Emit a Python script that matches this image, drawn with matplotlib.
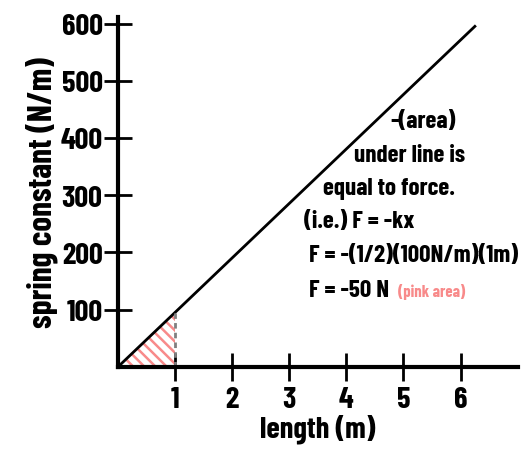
import matplotlib.pyplot as plt
from matplotlib.patches import Polygon

plt.rcParams["hatch.linewidth"] = 1.8

# spring line, length (m) vs spring constant (N/m)
line_x = [0, 6.25]
line_k = [0, 595]
x_ticks = [1, 2, 3, 4, 5, 6]
y_ticks = [100, 200, 300, 400, 500, 600]
shade_x = 1.0
slope = line_k[1] / line_x[1]

notes = [
    ("-(area)", 5.35, 430, "center"),
    ("under line is", 5.1, 370, "center"),
    ("equal to force.", 4.75, 313, "center"),
    ("(i.e.) F = -kx", 3.25, 255, "left"),
    ("F = -(1/2)(100N/m)(1m)", 3.35, 195, "left"),
    ("F = -50 N", 3.35, 135, "left"),
]

font = dict(family=["Barlow Condensed", "DejaVu Sans"], weight="bold")

fig = plt.figure(figsize=(5.24, 4.64), dpi=100)
ax = fig.add_axes([0.225, 0.207, 0.763, 0.755])

ax.plot(line_x, line_k, color="black", lw=2)

tri = Polygon([(0, 0), (shade_x, 0), (shade_x, slope * shade_x)],
              closed=True, fill=False, hatch="\\\\\\", edgecolor="#f88a8a", lw=0)
ax.add_patch(tri)
ax.plot([shade_x, shade_x], [0, slope * shade_x], color="gray", lw=2, ls=(0, (2, 1.5)))

for txt, x, y, ha in notes:
    ax.text(x, y, txt, ha=ha, va="center", fontsize=18, **font)
ax.text(4.9, 133, "(pink area)", ha="left", va="center", fontsize=12,
        color="#f88a8a", **font)

ax.set_xlim(0, 7)
ax.set_ylim(0, 612)
ax.set_xticks(x_ticks)
ax.set_yticks(y_ticks)
ax.set_xticklabels([str(v) for v in x_ticks], fontsize=22, **font)
ax.set_yticklabels([str(v) for v in y_ticks], fontsize=22, **font)
ax.tick_params(axis="y", direction="inout", length=20, width=2, pad=1)
ax.tick_params(axis="x", direction="inout", length=20, width=2, pad=4)
ax.spines["top"].set_visible(False)
ax.spines["right"].set_visible(False)
ax.spines["left"].set_linewidth(3)
ax.spines["bottom"].set_linewidth(3)
ax.set_xlabel("length (m)", fontsize=22, labelpad=0, **font)
ax.set_ylabel("spring constant (N/m)", fontsize=24, labelpad=2, **font)

fig.savefig("out.png", dpi=100)
